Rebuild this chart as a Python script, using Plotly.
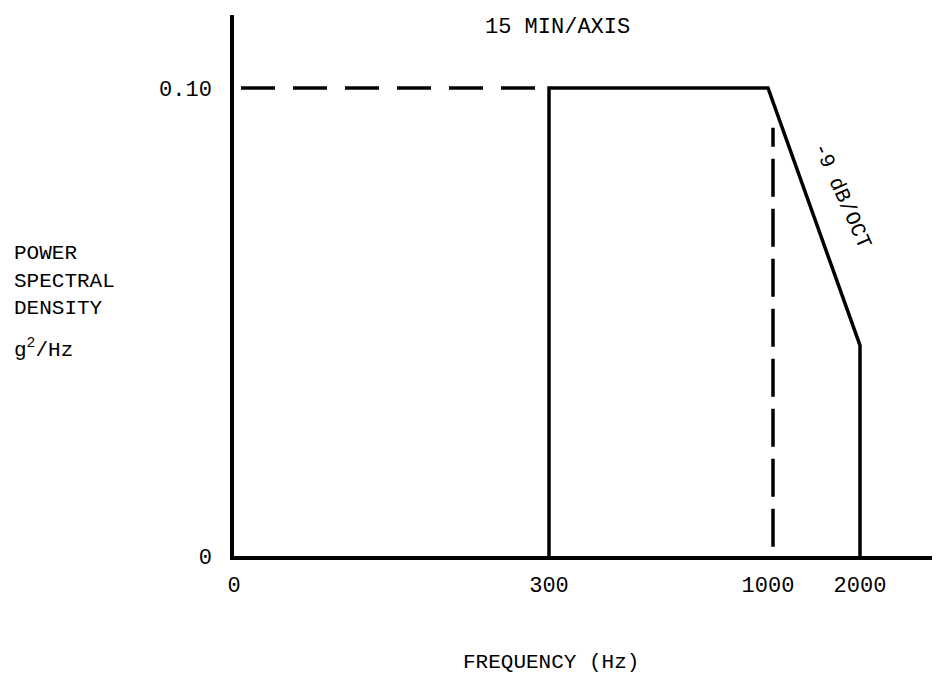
import numpy as np
import plotly.graph_objects as go

# --- data ---
freq_ticks = [0, 300, 1000, 2000]
freq_tick_labels = ["0", "300", "1000", "2000"]
psd_ticks = [0, 0.10]
psd_tick_labels = ["0", "0.10"]

profile_freq = [300, 300, 1000, 2000, 2000]
profile_psd = [0.0, 0.10, 0.10, 0.045, 0.0]

ref_level_freq = [0, 300]
ref_level_psd = [0.10, 0.10]

knee_freq = [1000, 1000]
knee_psd = [0.002, 0.0915]

# schematic (non-linear) frequency axis: display position of each tick frequency
axis_pos = [0, 315, 534, 626]

def fx(f):
    return np.interp(f, freq_ticks, axis_pos)

# --- layout geometry (figure sits 8px inside the page because of body margin) ---
W, H = 932, 668
L, R, T, B = 226, 0, 7, 120
PW, PH = W - L - R, H - T - B
OFF = 8

def px(xp):
    return (xp - OFF - L) / PW

def py(yp):
    return (H - B - (yp - OFF)) / PH

FONT = "Liberation Mono"
fig = go.Figure()

fig.add_trace(go.Scatter(x=fx(ref_level_freq) + np.array([7, 0]), y=ref_level_psd, mode="lines",
                         line=dict(color="black", width=3.5, dash="34px,18px"), hoverinfo="skip"))
fig.add_trace(go.Scatter(x=fx(knee_freq) + 5, y=knee_psd, mode="lines",
                         line=dict(color="black", width=3.5, dash="38px,12px"), hoverinfo="skip"))
fig.add_trace(go.Scatter(x=fx(profile_freq), y=profile_psd, mode="lines",
                         line=dict(color="black", width=3.5), hoverinfo="skip"))

yrange_top = 0.10 * (H - B - T) / ((H - B) - (88 - OFF))

fig.update_layout(
    width=W, height=H,
    margin=dict(l=L, r=R, t=T, b=B),
    paper_bgcolor="white", plot_bgcolor="white",
    showlegend=False,
    font=dict(family=FONT, color="black", size=22),
    xaxis=dict(range=[0, PW], showgrid=False, zeroline=False, showline=True,
               linecolor="black", linewidth=3.5, tickmode="array",
               tickvals=fx(freq_ticks), ticktext=freq_tick_labels,
               ticks="", ticklabelstandoff=6, tickfont=dict(size=22)),
    yaxis=dict(range=[0, yrange_top], showgrid=False, zeroline=False, showline=True,
               linecolor="black", linewidth=3.5, tickmode="array",
               tickvals=psd_ticks, ticktext=psd_tick_labels,
               ticks="", ticklabelstandoff=14, tickfont=dict(size=22)),
)

fig.add_annotation(text="15 MIN/AXIS", xref="paper", yref="paper", x=px(557), y=py(28),
                   showarrow=False, font=dict(size=22), xanchor="center", yanchor="middle")
for txt, yc in [("POWER", 253), ("SPECTRAL", 281), ("DENSITY", 308), ("g<sup>2</sup>/Hz", 348)]:
    fig.add_annotation(text=txt, xref="paper", yref="paper", x=px(12), y=py(yc),
                       showarrow=False, align="left", xanchor="left", yanchor="middle",
                       font=dict(size=21))
fig.add_annotation(text="FREQUENCY (Hz)", xref="paper", yref="paper", x=px(551), y=py(662),
                   showarrow=False, font=dict(size=21), xanchor="center", yanchor="middle")
fig.add_annotation(text="-9 dB/OCT", xref="paper", yref="paper", x=px(842), y=py(195),
                   showarrow=False, textangle=66, font=dict(size=21), xanchor="center", yanchor="middle")

fig.write_html("out.html")
